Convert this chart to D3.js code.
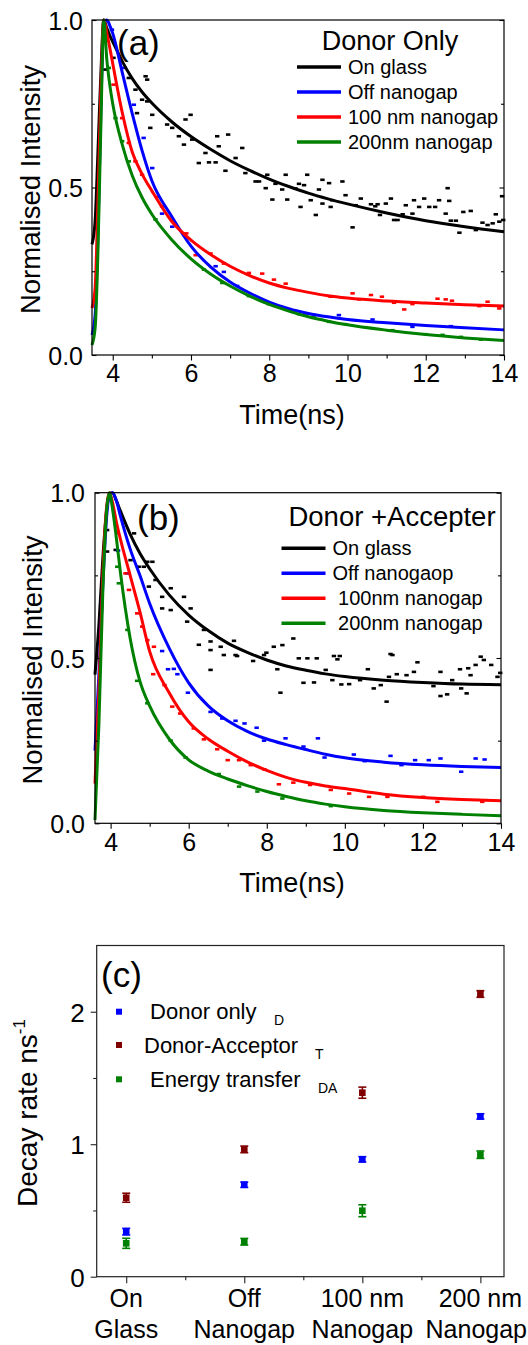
<!DOCTYPE html>
<html>
<head>
<meta charset="utf-8">
<script src="https://cdn.jsdelivr.net/npm/d3@7"></script>
<style>
  body { margin: 0; background: #fff; }
  svg { display: block; }
  text { font-family: "Liberation Sans", Arial, sans-serif; fill: #000; white-space: pre; }
</style>
</head>
<body>
<svg id="fig" width="528" height="1345"></svg>
<script>
// ---------- Panel (a): Donor only decays ----------
const timesA = [3.47, 3.55, 3.62, 3.70, 3.77, 3.85, 3.92, 4.0, 4.25, 4.5, 4.75, 5.0, 5.5, 6.0, 6.5, 7.0, 7.5, 8.0, 8.5, 9.0, 9.5, 10, 11, 12, 13, 14];
const glassA = [0.33, 0.40, 0.60, 0.85, 1.00, 0.975, 0.955, 0.935, 0.875, 0.825, 0.785, 0.752, 0.697, 0.652, 0.614, 0.580, 0.551, 0.525, 0.503, 0.483, 0.466, 0.451, 0.424, 0.401, 0.383, 0.368];
const offA   = [0.06, 0.12, 0.35, 0.75, 0.99, 1.00, 0.985, 0.96, 0.84, 0.72, 0.61, 0.52, 0.415, 0.325, 0.263, 0.218, 0.185, 0.158, 0.138, 0.124, 0.114, 0.106, 0.096, 0.088, 0.081, 0.075];
const nm100A = [0.14, 0.20, 0.45, 0.80, 1.00, 0.96, 0.92, 0.87, 0.72, 0.605, 0.54, 0.49, 0.40, 0.343, 0.30, 0.265, 0.237, 0.215, 0.199, 0.187, 0.177, 0.17, 0.161, 0.155, 0.15, 0.146];
const nm200A = [0.03, 0.08, 0.30, 0.70, 1.00, 0.88, 0.81, 0.75, 0.625, 0.535, 0.47, 0.42, 0.345, 0.287, 0.242, 0.206, 0.176, 0.151, 0.131, 0.114, 0.101, 0.09, 0.074, 0.061, 0.051, 0.043];

const ptsGlassA = [[3.81,0.852],[4.02,0.887],[4.41,0.827],[4.84,0.832],[4.88,0.822],[4.58,0.792],[4.75,0.762],[4.88,0.757],[5.01,0.717],[4.62,0.722],[4.96,0.678],[5.39,0.688],[5.52,0.678],[5.99,0.717],[5.86,0.703],[5.69,0.653],[6.03,0.643],[5.82,0.628],[6.67,0.653],[6.95,0.658],[6.71,0.623],[6.37,0.603],[7.31,0.618],[7.14,0.588],[6.2,0.573],[6.46,0.575],[6.63,0.575],[6.88,0.55],[7.39,0.543],[7.95,0.538],[8.42,0.538],[8.97,0.538],[7.65,0.518],[7.74,0.518],[8.16,0.511],[8.76,0.511],[9.36,0.523],[9.53,0.513],[9.87,0.518],[7.91,0.498],[8.33,0.494],[9.27,0.494],[12.56,0.498],[8.08,0.464],[8.46,0.464],[8.67,0.497],[8.89,0.507],[8.8,0.442],[9.06,0.462],[9.19,0.418],[9.36,0.452],[9.57,0.442],[9.61,0.462],[9.95,0.477],[10.13,0.381],[10.21,0.447],[10.34,0.467],[10.6,0.45],[10.71,0.444],[10.77,0.45],[10.83,0.418],[10.98,0.452],[11.11,0.467],[11.19,0.403],[11.28,0.403],[11.41,0.42],[11.49,0.447],[11.66,0.422],[11.7,0.462],[11.83,0.442],[11.96,0.467],[12.09,0.442],[12.24,0.442],[12.34,0.462],[12.51,0.422],[12.6,0.46],[12.64,0.401],[12.77,0.401],[12.86,0.365],[12.96,0.427],[13.15,0.43],[13.28,0.373],[13.45,0.395],[13.58,0.388],[13.71,0.393],[13.79,0.42],[13.88,0.398],[13.95,0.474],[13.98,0.403]];
const ptsOffA = [[3.98,0.971],[4.28,0.857],[4.54,0.747],[4.79,0.648],[5.01,0.558],[5.26,0.422],[5.52,0.383],[6.63,0.265],[6.84,0.248],[7.18,0.206],[8.29,0.144],[8.59,0.129],[8.93,0.124],[9.14,0.119],[9.78,0.119],[10.64,0.106],[11.66,0.084],[12.64,0.086]];
const pts100A = [[4.02,0.807],[4.24,0.707],[4.41,0.633],[4.58,0.578],[4.75,0.538],[5.13,0.472],[5.26,0.444],[5.88,0.363],[6.12,0.298],[6.5,0.303],[6.84,0.273],[7.48,0.245],[7.82,0.243],[8.12,0.225],[8.42,0.213],[9.57,0.174],[10.13,0.184],[10.3,0.166],[10.6,0.179],[10.88,0.174],[11.19,0.156],[11.45,0.136],[11.66,0.152],[12.3,0.168],[12.51,0.166],[12.67,0.162],[13.37,0.146],[13.58,0.159],[13.88,0.139]];
const pts200A = [[3.9,0.857],[4.07,0.707],[4.24,0.638],[4.41,0.578],[5.09,0.405],[6.33,0.255],[6.8,0.215],[7.48,0.176],[7.99,0.152],[8.33,0.14],[8.76,0.122],[9.14,0.112],[9.53,0.099],[9.95,0.092],[11.15,0.074],[12.0,0.062],[12.43,0.06],[12.9,0.054],[13.41,0.046]];

// ---------- Panel (b): Donor + acceptor decays ----------
const timesB = [3.6, 3.7, 3.8, 3.9, 3.97, 4.05, 4.15, 4.25, 4.5, 4.75, 5.0, 5.5, 6.0, 6.5, 7.0, 7.5, 8.0, 8.5, 9.0, 9.5, 10, 11, 12, 13, 14];
const glassB = [0.45, 0.6, 0.8, 0.95, 0.995, 1.0, 0.975, 0.945, 0.875, 0.817, 0.77, 0.691, 0.63, 0.583, 0.545, 0.517, 0.494, 0.476, 0.463, 0.452, 0.444, 0.433, 0.426, 0.421, 0.419];
const offB   = [0.22, 0.45, 0.72, 0.93, 0.995, 1.0, 0.975, 0.93, 0.83, 0.75, 0.665, 0.53, 0.425, 0.355, 0.31, 0.278, 0.255, 0.238, 0.223, 0.209, 0.198, 0.185, 0.177, 0.172, 0.169];
const nm100B = [0.12, 0.4, 0.75, 0.96, 1.0, 0.97, 0.91, 0.86, 0.75, 0.64, 0.52, 0.395, 0.307, 0.255, 0.218, 0.186, 0.16, 0.139, 0.124, 0.113, 0.105, 0.088, 0.078, 0.072, 0.068];
const nm200B = [0.01, 0.3, 0.7, 0.95, 1.0, 0.95, 0.86, 0.76, 0.56, 0.43, 0.355, 0.255, 0.192, 0.158, 0.134, 0.114, 0.096, 0.081, 0.068, 0.058, 0.05, 0.039, 0.032, 0.027, 0.023];

const ptsGlassB = [[3.91,0.887],[3.91,0.822],[4.13,0.827],[4.6,0.877],[4.51,0.796],[4.72,0.776],[4.85,0.776],[4.94,0.791],[5.07,0.791],[4.98,0.716],[5.15,0.736],[5.32,0.685],[5.54,0.711],[5.32,0.65],[5.54,0.645],[5.88,0.685],[6.05,0.65],[5.96,0.61],[6.39,0.585],[6.56,0.55],[6.26,0.54],[6.56,0.524],[6.82,0.534],[7.2,0.509],[7.16,0.552],[8.18,0.534],[8.4,0.539],[8.68,0.559],[7.93,0.509],[8.82,0.499],[9.04,0.499],[9.72,0.506],[9.81,0.496],[11.17,0.512],[13.48,0.504],[13.56,0.494],[6.56,0.464],[6.9,0.509],[7.24,0.506],[7.65,0.491],[7.99,0.516],[8.27,0.466],[8.35,0.395],[9.28,0.499],[8.94,0.425],[9.21,0.426],[9.51,0.464],[9.68,0.433],[9.87,0.506],[9.91,0.42],[10.11,0.421],[10.39,0.433],[10.59,0.466],[10.74,0.408],[10.92,0.418],[11.07,0.368],[11.13,0.443],[11.22,0.509],[11.33,0.451],[11.58,0.448],[11.77,0.458],[11.86,0.487],[12.27,0.415],[12.45,0.458],[12.45,0.385],[12.62,0.39],[12.75,0.433],[12.95,0.466],[12.98,0.408],[13.12,0.393],[13.16,0.469],[13.22,0.448],[13.35,0.479],[13.75,0.479],[13.91,0.443],[13.98,0.455]];
const ptsOffB = [[4.19,0.825],[4.43,0.756],[5.32,0.521],[5.47,0.466],[5.62,0.467],[5.71,0.451],[5.98,0.395],[6.56,0.337],[6.86,0.317],[7.2,0.31],[7.43,0.302],[7.74,0.289],[7.93,0.25],[8.48,0.257],[8.94,0.232],[9.31,0.257],[9.48,0.199],[10.23,0.208],[10.51,0.188],[11.17,0.204],[11.45,0.176],[11.8,0.191],[12.15,0.191],[12.45,0.196],[12.98,0.156],[13.35,0.196],[13.58,0.193]];
const pts100B = [[4.17,0.877],[4.38,0.756],[4.47,0.706],[4.68,0.635],[4.81,0.595],[4.94,0.554],[5.11,0.534],[5.09,0.451],[5.38,0.418],[5.58,0.353],[5.78,0.332],[6.13,0.287],[6.39,0.254],[6.73,0.224],[7.0,0.191],[7.29,0.191],[7.59,0.176],[7.94,0.163],[8.31,0.118],[8.68,0.123],[9.11,0.116],[9.64,0.101],[10.11,0.09],[10.62,0.08],[11.09,0.08],[12.01,0.08],[12.37,0.065],[13.52,0.065]];
const pts200B = [[4.17,0.776],[4.21,0.726],[4.43,0.585],[4.68,0.431],[4.94,0.363],[5.54,0.25],[5.92,0.199],[6.77,0.149],[7.29,0.111],[7.76,0.096],[8.4,0.075],[9.64,0.052]];

const seriesColors = ["#000000", "#0000ff", "#ff0000", "#008000"];
const legendNamesA = ["On glass", "Off nanogap", "100 nm nanogap", "200nm nanogap"];
const legendNamesB = ["On glass", "Off nanogaop", " 100nm nanogap", " 200nm nanogap"];
const timeTicks = [4, 6, 8, 10, 12, 14];
const timeMinorTicks = [5, 7, 9, 11, 13];
const intensityTicks = [0, 0.5, 1.0];
const intensityMinorTicks = [0.25, 0.75];

// ---------- Panel (c): decay rates ----------
const sites = [["On", "Glass"], ["Off", "Nanogap"], ["100 nm", "Nanogap"], ["200 nm", "Nanogap"]];
const rateDonor    = [0.34, 0.694, 0.886, 1.21];
const errDonor     = [0.025, 0.02, 0.02, 0.02];
const rateAcceptor = [0.596, 0.961, 1.389, 2.134];
const errAcceptor  = [0.034, 0.025, 0.042, 0.025];
const rateTransfer = [0.252, 0.264, 0.498, 0.921];
const errTransfer  = [0.038, 0.025, 0.045, 0.028];
const rateTicks = [0, 1, 2];
const rateMinorTicks = [0.5, 1.5];
const rateNames = [" Donor only", "Donor-Acceptor", " Energy transfer"];
const rateSubs = ["D", "T", "DA"];
const rateColors = ["#0000ff", "#800000", "#008000"];

const svg = d3.select("#fig");

function decayPanel(o) {
  const x = d3.scaleLinear().domain(o.xDomain).range([o.left, o.right]);
  const y = d3.scaleLinear().domain([0, 1]).range([o.bottom, o.top]);
  const g = svg.append("g");

  // scattered measured counts
  o.points.forEach((pts, i) => {
    g.append("g").selectAll("rect").data(pts).join("rect")
      .attr("x", d => x(d[0]) - 2.2).attr("y", d => y(d[1]) - 1.3)
      .attr("width", 4.4).attr("height", 2.6)
      .attr("fill", seriesColors[i]);
  });

  // fitted decay curves
  const line = d3.line().x(d => x(d[0])).y(d => y(d[1])).curve(d3.curveMonotoneX);
  o.curves.forEach((vals, i) => {
    g.append("path").datum(o.times.map((t, k) => [t, vals[k]]))
      .attr("d", line).attr("fill", "none")
      .attr("stroke", seriesColors[i]).attr("stroke-width", 3)
      .attr("stroke-linejoin", "round");
  });

  // frame
  g.append("rect").attr("x", o.left).attr("y", o.top)
    .attr("width", o.right - o.left).attr("height", o.bottom - o.top)
    .attr("fill", "none").attr("stroke", "#000").attr("stroke-width", 1.2);

  // bottom axis
  const xa = g.append("g").attr("transform", `translate(0,${o.bottom})`)
    .call(d3.axisBottom(x).tickValues(timeTicks).tickSize(5.5).tickPadding(4).tickFormat(d3.format("d")));
  const xm = g.append("g").attr("transform", `translate(0,${o.bottom})`)
    .call(d3.axisBottom(x).tickValues(timeMinorTicks).tickSize(3.5).tickFormat(""));
  // left axis (ticks inside)
  const ya = g.append("g").attr("transform", `translate(${o.left},0)`)
    .call(d3.axisLeft(y).tickValues(intensityTicks).tickSize(-4.5).tickPadding(o.yPad).tickFormat(d3.format(".1f")));
  const ym = g.append("g").attr("transform", `translate(${o.left},0)`)
    .call(d3.axisLeft(y).tickValues(intensityMinorTicks).tickSize(-3).tickFormat(""));
  // right mirror ticks
  const yr = g.append("g").attr("transform", `translate(${o.right},0)`)
    .call(d3.axisRight(y).tickValues(intensityTicks).tickSize(-4.5).tickFormat(""));
  const yrm = g.append("g").attr("transform", `translate(${o.right},0)`)
    .call(d3.axisRight(y).tickValues(intensityMinorTicks).tickSize(-3).tickFormat(""));
  [xa, xm, ya, ym, yr, yrm].forEach(a => {
    a.select(".domain").remove();
    a.selectAll("line").attr("stroke", "#000").attr("stroke-width", 1.1);
    a.selectAll("text").attr("font-size", 25).attr("font-family", "Liberation Sans, Arial, sans-serif");
  });
  xa.selectAll("text").attr("dy", "0.71em");
  ya.selectAll("text").attr("dy", "0.36em");

  // axis titles
  g.append("text").attr("x", (o.left + o.right) / 2 - 6).attr("y", o.bottom + 69)
    .attr("text-anchor", "middle").attr("font-size", 27).text("Time(ns)");
  g.append("text")
    .attr("transform", `translate(${o.yTitleX},${(o.top + o.bottom) / 2 + 2}) rotate(-90)`)
    .attr("text-anchor", "middle").attr("font-size", 27.5).text("Normalised Intensity");

  // panel tag
  g.append("text").attr("x", o.tagX).attr("y", o.tagY).attr("font-size", 35).text(o.tag);

  // legend
  g.append("text").attr("x", o.legTitleX).attr("y", o.legTitleY)
    .attr("text-anchor", "middle").attr("font-size", o.legTitleSize).text(o.legTitle);
  o.names.forEach((name, i) => {
    const cy = o.legY0 + i * 25;
    g.append("line").attr("x1", o.legX).attr("x2", o.legX + 44)
      .attr("y1", cy).attr("y2", cy)
      .attr("stroke", seriesColors[i]).attr("stroke-width", 3.5);
    g.append("text").attr("x", o.legX + 51).attr("y", cy + 7)
      .attr("font-size", 20).text(name);
  });
}

decayPanel({
  left: 92, right: 504, top: 20, bottom: 355, xDomain: [3.47, 14],
  times: timesA, curves: [glassA, offA, nm100A, nm200A],
  points: [ptsGlassA, ptsOffA, pts100A, pts200A],
  yPad: 9, yTitleX: 40, tag: "(a)", tagX: 117, tagY: 55,
  legTitle: "Donor Only", legTitleX: 390, legTitleY: 50, legTitleSize: 27,
  names: legendNamesA, legX: 297, legY0: 67
});

decayPanel({
  left: 95, right: 501, top: 492.7, bottom: 823.3, xDomain: [3.6, 14],
  times: timesB, curves: [glassB, offB, nm100B, nm200B],
  points: [ptsGlassB, ptsOffB, pts100B, pts200B],
  yPad: 10, yTitleX: 42, tag: "(b)", tagX: 137, tagY: 530,
  legTitle: "Donor +Accepter", legTitleX: 392, legTitleY: 526, legTitleSize: 27.5,
  names: legendNamesB, legX: 281.5, legY0: 548.3
});

// ---------- Panel (c) ----------
(function ratePanel() {
  const left = 96.7, right = 504, top = 945.5, bottom = 1276.7;
  const x = d3.scaleLinear().domain([-0.25, 3.2]).range([left, right]);
  const y = d3.scaleLinear().domain([0, 2.5]).range([bottom, top]);
  const g = svg.append("g");

  g.append("rect").attr("x", left).attr("y", top)
    .attr("width", right - left).attr("height", bottom - top)
    .attr("fill", "none").attr("stroke", "#222").attr("stroke-width", 1.2);

  const ya = g.append("g").attr("transform", `translate(${left},0)`)
    .call(d3.axisLeft(y).tickValues(rateTicks).tickSize(6).tickPadding(6).tickFormat(d3.format("d")));
  const ym = g.append("g").attr("transform", `translate(${left},0)`)
    .call(d3.axisLeft(y).tickValues(rateMinorTicks).tickSize(3.5).tickFormat(""));
  const xa = g.append("g").attr("transform", `translate(0,${bottom})`)
    .call(d3.axisBottom(x).tickValues(d3.range(sites.length)).tickSize(6.5).tickFormat(""));
  const xm = g.append("g").attr("transform", `translate(0,${bottom})`)
    .call(d3.axisBottom(x).tickValues([0.5, 1.5, 2.5]).tickSize(3.5).tickFormat(""));
  [ya, ym, xa, xm].forEach(a => {
    a.select(".domain").remove();
    a.selectAll("line").attr("stroke", "#222").attr("stroke-width", 1.1);
    a.selectAll("text").attr("font-size", 26).attr("font-family", "Liberation Sans, Arial, sans-serif");
  });
  ya.selectAll("text").attr("dy", "0.36em");

  // category labels on two lines, kept inside the page width
  sites.forEach((lines, i) => {
    const t = g.append("text").attr("text-anchor", "middle").attr("font-size", 25);
    const a = t.append("tspan").attr("x", x(i)).attr("y", 1306.5).text(lines[0]);
    const b = t.append("tspan").attr("x", x(i)).attr("y", 1338).text(lines[1]);
    [a, b].forEach(s => {
      const w = s.node().getComputedTextLength();
      const cx = Math.min(x(i), 527 - w / 2);
      s.attr("x", cx);
    });
  });

  // y title
  const yt = g.append("text")
    .attr("transform", `translate(37,1113) rotate(-90)`)
    .attr("text-anchor", "middle").attr("font-size", 28);
  yt.append("tspan").text("Decay rate ns");
  yt.append("tspan").attr("font-size", 17).attr("dy", -12).text("-1");

  // measured rates with error bars
  const sets = [[rateDonor, errDonor], [rateAcceptor, errAcceptor], [rateTransfer, errTransfer]];
  sets.forEach(([vals, errs], s) => {
    const c = rateColors[s];
    vals.forEach((v, i) => {
      const cx = x(i);
      g.append("line").attr("x1", cx).attr("x2", cx)
        .attr("y1", y(v - errs[i])).attr("y2", y(v + errs[i]))
        .attr("stroke", c).attr("stroke-width", 1.6);
      [v - errs[i], v + errs[i]].forEach(e => {
        g.append("line").attr("x1", cx - 4).attr("x2", cx + 4)
          .attr("y1", y(e)).attr("y2", y(e))
          .attr("stroke", c).attr("stroke-width", 1.6);
      });
      g.append("rect").attr("x", cx - 3.3).attr("y", y(v) - 3.3)
        .attr("width", 6.6).attr("height", 6.6).attr("fill", c);
    });
  });

  // legend
  const legRowY = [1011.7, 1045, 1079.3];
  const subX = [274, 315, 318];
  rateNames.forEach((name, i) => {
    g.append("rect").attr("x", 119 - 3).attr("y", legRowY[i] - 3)
      .attr("width", 6).attr("height", 6).attr("fill", rateColors[i]);
    g.append("text").attr("x", 144).attr("y", legRowY[i] + 7.5)
      .attr("font-size", 22).text(name);
    g.append("text").attr("x", subX[i]).attr("y", legRowY[i] + 13.5)
      .attr("font-size", 14).text(rateSubs[i]);
  });

  g.append("text").attr("x", 101).attr("y", 987).attr("font-size", 35).text("(c)");
})();
</script>
</body>
</html>
